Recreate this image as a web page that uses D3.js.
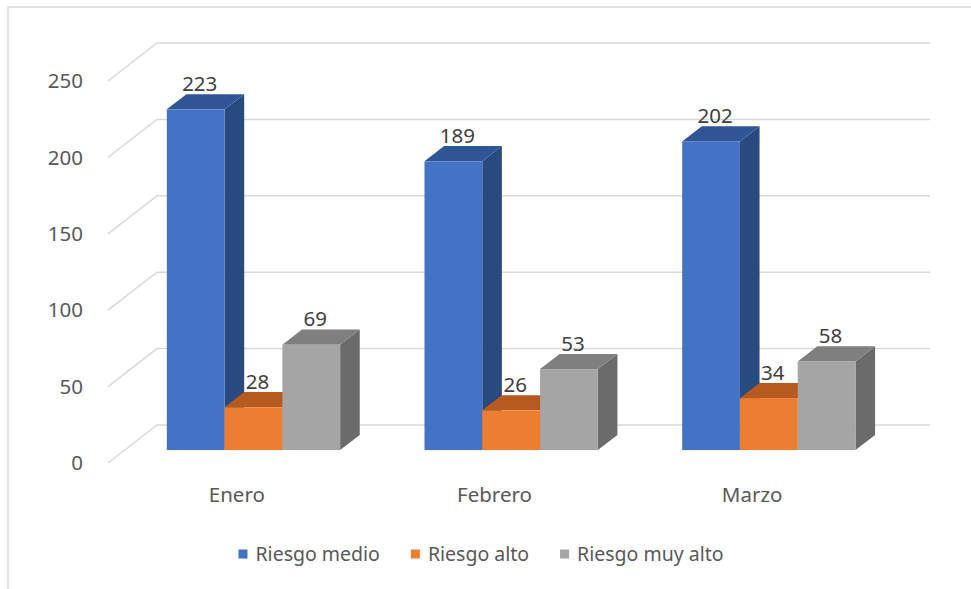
<!DOCTYPE html>
<html>
<head>
<meta charset="utf-8">
<script src="https://cdn.jsdelivr.net/npm/d3@7"></script>
<style>
  body { margin: 0; background: #fff; }
  text { font-family: "Noto Sans", sans-serif; fill: #595959; }
</style>
</head>
<body>
<div id="container"></div>
<script>
window.addEventListener('DOMContentLoaded', (event) => {

    // Data.
    const months = ['Enero', 'Febrero', 'Marzo'];
    const seriesNames = ['Riesgo medio', 'Riesgo alto', 'Riesgo muy alto'];
    const riesgoMedio = [223, 189, 202];
    const riesgoAlto = [28, 26, 34];
    const riesgoMuyAlto = [69, 53, 58];
    const yTicks = [0, 50, 100, 150, 200, 250];

    const seriesValues = [riesgoMedio, riesgoAlto, riesgoMuyAlto];

    // Colours: front, top, side.
    const colors = [
        { front: '#4472c4', top: '#2f5597', side: '#294a7f' },
        { front: '#ed7d31', top: '#b65a20', side: '#a0501c' },
        { front: '#a5a5a5', top: '#7f7f7f', side: '#6b6b6b' }
    ];

    const width = 971;
    const height = 589;

    // Oblique 3D: depth offset of the floor.
    const depthX = 49;
    const depthY = -38;
    const zFront = 0.34;
    const zBack = 0.74;

    const svg = d3.select('#container')
        .append('svg')
        .attr('width', width)
        .attr('height', height);

    // Outer frame (only top and left fall inside the window).
    svg.append('rect')
        .attr('x', 8)
        .attr('y', 7)
        .attr('width', 980)
        .attr('height', 600)
        .attr('fill', 'none')
        .attr('stroke', '#d9d9d9')
        .attr('stroke-width', 1.5);

    const x = d3.scaleBand()
        .domain(months)
        .range([108, 881]);

    const xInner = d3.scaleBand()
        .domain(seriesNames)
        .range([0, x.bandwidth()])
        .paddingOuter(0.73);

    const y = d3.scaleLinear()
        .domain([0, 250])
        .range([463, 81]);

    const px = (xf, v, z) => [xf + z * depthX, y(v) + z * depthY];

    // Gridlines: side diagonal + back wall.
    const grid = svg.append('g')
        .attr('stroke', '#d9d9d9')
        .attr('stroke-width', 1.5)
        .attr('fill', 'none');

    yTicks.forEach(t => {
        const a = px(108, t, 0);
        const b = px(108, t, 1);
        const c = px(881, t, 1);
        grid.append('path')
            .attr('d', d3.line()([a, b, c]));
    });

    // Y tick labels.
    svg.append('g')
        .selectAll('text')
        .data(yTicks)
        .join('text')
        .attr('x', 83)
        .attr('y', d => y(d))
        .attr('dy', '0.35em')
        .attr('text-anchor', 'end')
        .style('font-size', '20.5px')
        .text(d => d);

    // Bars.
    const bars = [];
    months.forEach((m, i) => {
        seriesNames.forEach((s, j) => {
            bars.push({ month: m, series: s, j: j, value: seriesValues[j][i] });
        });
    });

    const barG = svg.append('g');

    bars.forEach(d => {
        const x0 = x(d.month) + xInner(d.series);
        const x1 = x0 + xInner.bandwidth();
        const c = colors[d.j];
        const g = barG.append('g');

        // right side
        g.append('path')
            .attr('d', d3.line()([
                px(x1, 0, zFront), px(x1, 0, zBack),
                px(x1, d.value, zBack), px(x1, d.value, zFront)
            ]) + 'Z')
            .attr('fill', c.side);

        // top
        g.append('path')
            .attr('d', d3.line()([
                px(x0, d.value, zFront), px(x1, d.value, zFront),
                px(x1, d.value, zBack), px(x0, d.value, zBack)
            ]) + 'Z')
            .attr('fill', c.top);

        // front
        const f0 = px(x0, d.value, zFront);
        const f1 = px(x1, 0, zFront);
        g.append('rect')
            .attr('x', f0[0])
            .attr('y', f0[1])
            .attr('width', f1[0] - f0[0])
            .attr('height', f1[1] - f0[1])
            .attr('fill', c.front);
    });

    // Data labels.
    svg.append('g')
        .selectAll('text')
        .data(bars)
        .join('text')
        .attr('x', d => px(x(d.month) + xInner(d.series) + xInner.bandwidth() / 2, d.value, zFront)[0] + 4)
        .attr('y', d => px(0, d.value, zBack)[1] - 3)
        .attr('text-anchor', 'middle')
        .style('font-size', '20.5px')
        .style('fill', '#404040')
        .text(d => d.value);

    // Category labels.
    svg.append('g')
        .selectAll('text')
        .data(months)
        .join('text')
        .attr('x', d => x(d) + x.bandwidth() / 2)
        .attr('y', 495)
        .attr('dy', '0.35em')
        .attr('text-anchor', 'middle')
        .style('font-size', '20.5px')
        .text(d => d);

    // Legend.
    const legend = svg.append('g');
    let lx = 0;
    seriesNames.forEach((s, j) => {
        const item = legend.append('g').attr('transform', `translate(${lx},0)`);
        item.append('rect')
            .attr('x', 0)
            .attr('y', -4.5)
            .attr('width', 9)
            .attr('height', 9)
            .attr('fill', colors[j].front);
        const t = item.append('text')
            .attr('x', 17)
            .attr('y', 0)
            .attr('dy', '0.35em')
            .style('font-size', '19.5px')
            .text(s);
        lx += 17 + t.node().getComputedTextLength() + 31;
    });
    const legendW = lx - 31;
    legend.attr('transform', `translate(${481 - legendW / 2},554)`);

}); // end of document ready
</script>
</body>
</html>
